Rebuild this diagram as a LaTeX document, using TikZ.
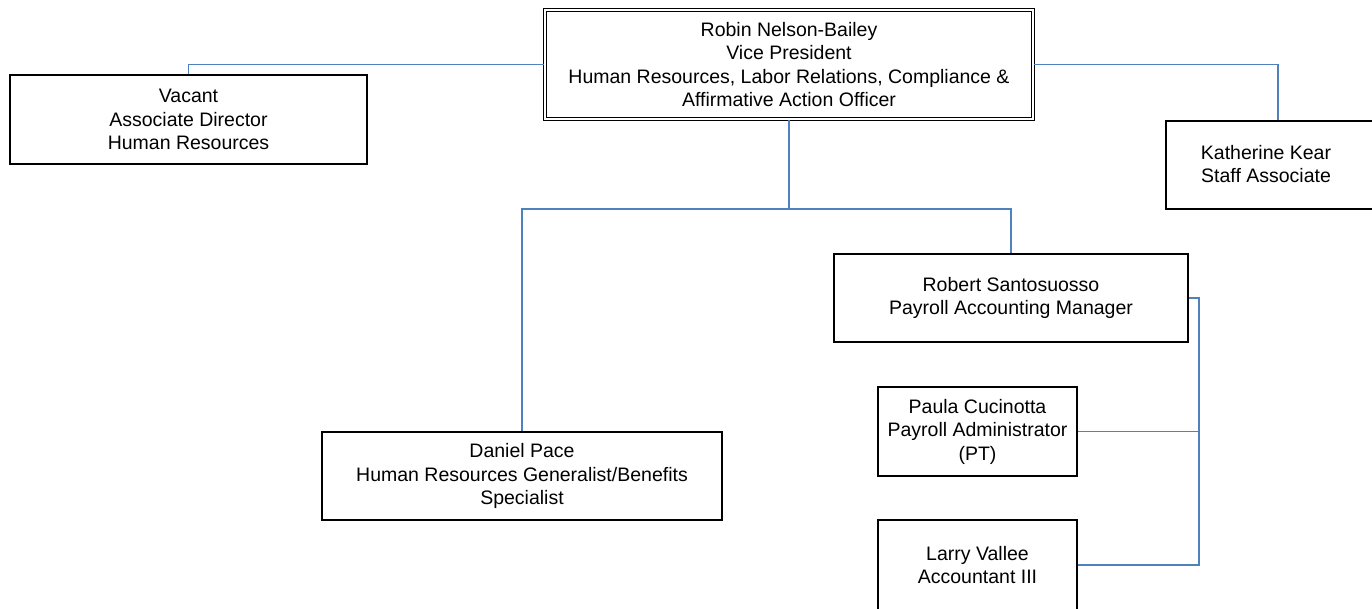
\documentclass[tikz,border=0pt]{standalone}
\usepackage{fontspec}
\setmainfont{Liberation Sans}
\definecolor{linkblue}{RGB}{79,129,189}
\tikzset{
  box/.style={draw=black, line width=1.3pt, fill=white, inner sep=0pt,
              align=center, font=\fontsize{19.5}{23.5}\selectfont},
  txt/.style={inner sep=0pt, align=center, font=\fontsize{19.5}{23.5}\selectfont},
  conn/.style={draw=linkblue, line width=1.5pt},
}
\begin{document}
\begin{tikzpicture}[x=1pt,y=-1pt]
  \useasboundingbox (0,0) rectangle (1372,608);
  \clip (0,0) rectangle (1372,608);

  % vice president (double frame)
  \node[box, double, double distance=2.4pt, line width=1.1pt,
        minimum width=488pt, minimum height=109pt] (vp) at (789,64.5)
    {Robin Nelson-Bailey\\Vice President\\Human Resources, Labor Relations, Compliance \&\\Affirmative Action Officer};

  % direct reports
  \node[box, minimum width=357pt, minimum height=89pt] (vac) at (188.5,119.5)
    {Vacant\\Associate Director\\Human Resources};
  \node[box, minimum width=224pt, minimum height=88pt] (kk) at (1278,165) {};
  \node[txt] (kkt) at (1266,164) {Katherine Kear\\Staff Associate};
  \node[box, minimum width=354pt, minimum height=88pt] (rs) at (1011,298)
    {Robert Santosuosso\\Payroll Accounting Manager};
  \node[box, minimum width=400pt, minimum height=88pt] (dp) at (522,476)
    {Daniel Pace\\Human Resources Generalist/Benefits\\Specialist};

  % payroll staff
  \node[box, minimum width=199pt, minimum height=89pt] (pc) at (977.5,431.5)
    {Paula Cucinotta\\Payroll Administrator\\(PT)};
  \node[box, minimum width=199pt, minimum height=90pt] (lv) at (977.5,565)
    {Larry Vallee\\Accountant III};

  % junction points
  \coordinate (bus) at (789,209);
  \coordinate (pbus) at (1199,298);

  % connectors
  \draw[conn] (vp.west) -| (vac.north);
  \draw[conn] (vp.east) -| (kk.north);
  \draw[conn] (vp.south) -- (bus) -| (rs.north);
  \draw[conn] (bus) -| (dp.north);
  \draw[conn] (rs.east) -- (pbus) |- (lv.east);
  \draw[conn] (pbus) |- (pc.east);
\end{tikzpicture}
\end{document}
